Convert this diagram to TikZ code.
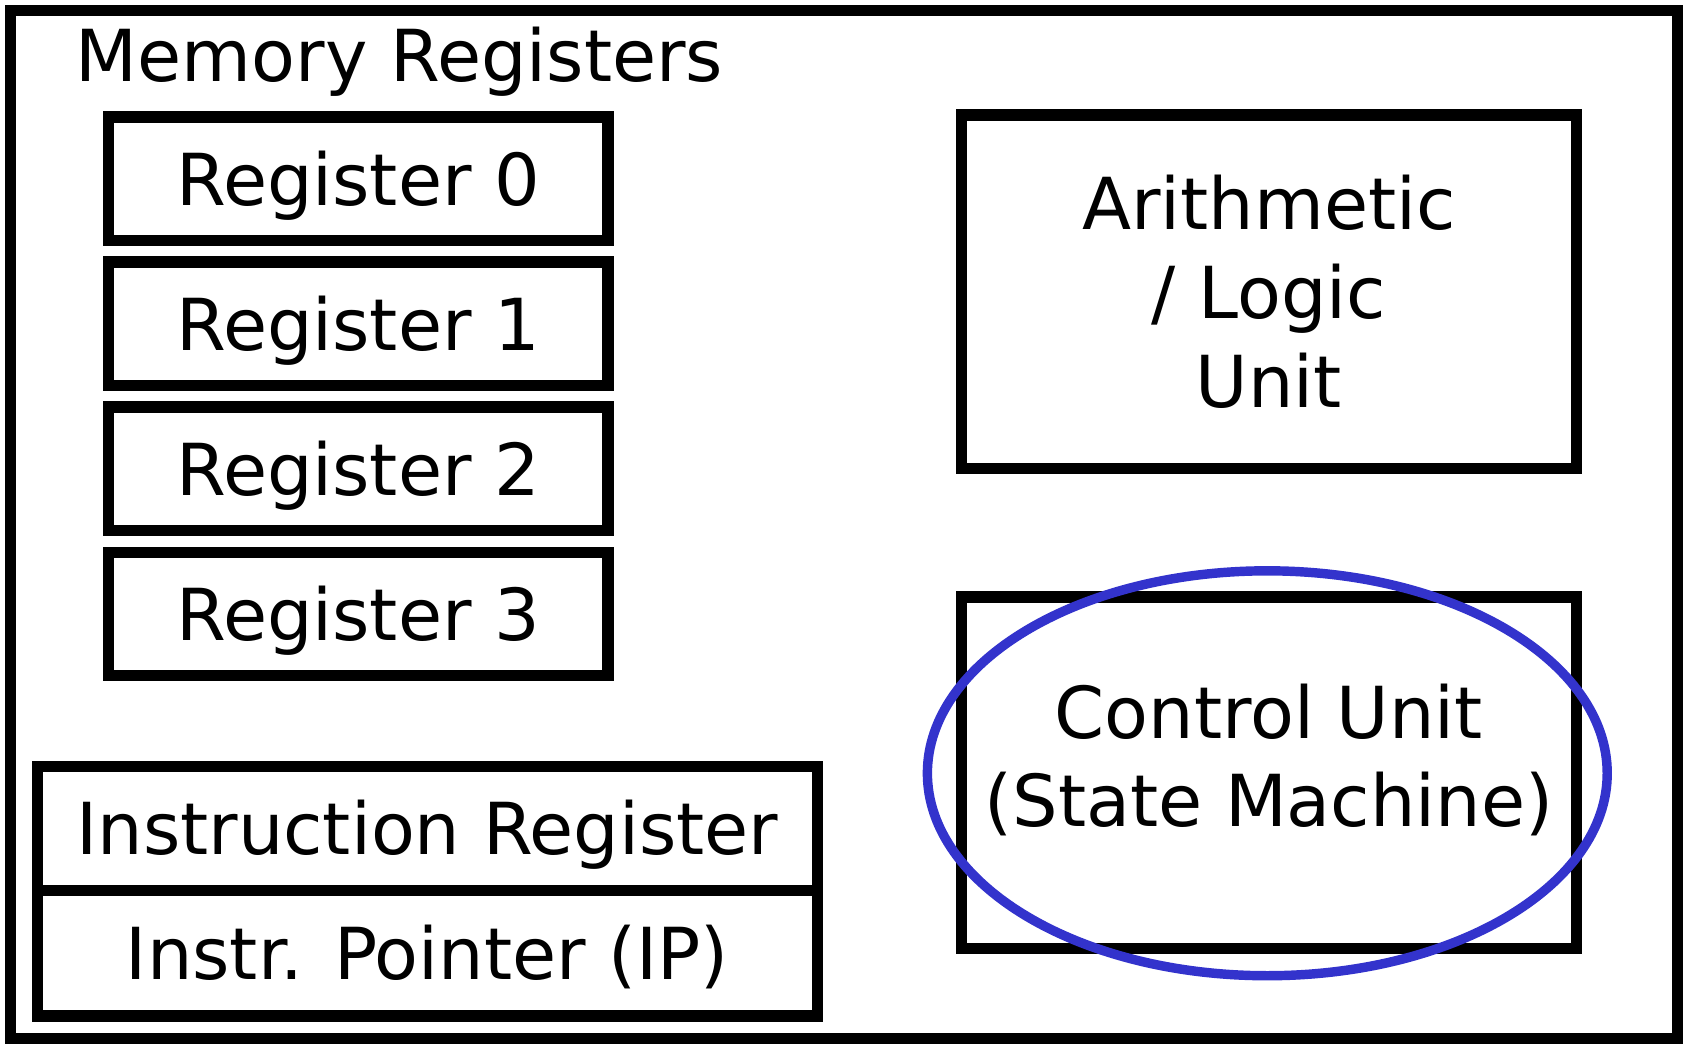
\documentclass[tikz,border=0pt]{standalone}
\usepackage{fontspec}
\setmainfont{DejaVu Sans}
\usetikzlibrary{positioning,shapes.geometric}

\definecolor{cublue}{RGB}{51,51,204}
\tikzset{every path/.style={line width=3pt}}
\tikzset{
  unit/.style={rectangle,draw,inner sep=0pt,font=\fontsize{19}{23.5}\selectfont,align=center},
  reg/.style={unit,minimum width=4.65cm,minimum height=1.15cm,text height=13.9pt,text depth=0pt},
  ireg/.style={unit,minimum width=7.26cm,minimum height=1.15cm,text height=13.9pt,text depth=0pt},
  bigunit/.style={unit,minimum width=5.73cm,minimum height=3.29cm}
}

\begin{document}
\begin{tikzpicture}[x=1cm,y=-1cm]
    \useasboundingbox (0,0) rectangle (15.68,9.76);
    \node[rectangle,draw,inner sep=0pt,minimum width=15.525cm,minimum height=9.575cm] (cpu) at (7.8575,4.8825) {};
    % memory registers
    \node[anchor=base,font=\fontsize{19}{23.5}\selectfont] (title) at (3.72,0.76) {Memory Registers};
    \node[reg] (r0) at (3.335,1.665) {Register 0};
    \node[reg,below=0.095cm of r0] (r1) {Register 1};
    \node[reg,below=0.095cm of r1] (r2) {Register 2};
    \node[reg,below=0.095cm of r2] (r3) {Register 3};
    % instruction register and pointer
    \node[ireg] (ir) at (3.98,7.715) {Instruction Register};
    \node[ireg,minimum height=1.17cm,below=-3pt of ir] (ip) {Instr. Pointer (IP)};
    % ALU and control unit
    \node[bigunit] (alu) at (11.815,2.715) {Arithmetic\\/ Logic\\Unit};
    \node[bigunit,minimum height=3.27cm,text height=37.9pt,text depth=9.3pt] (cu) at (11.815,7.195) {Control Unit\\(State Machine)};
    \node[ellipse,draw=cublue,line width=2.5pt,inner sep=0pt,minimum width=6.33cm,minimum height=3.77cm] (focus) at (11.80,7.20) {};
\end{tikzpicture}
\end{document}
